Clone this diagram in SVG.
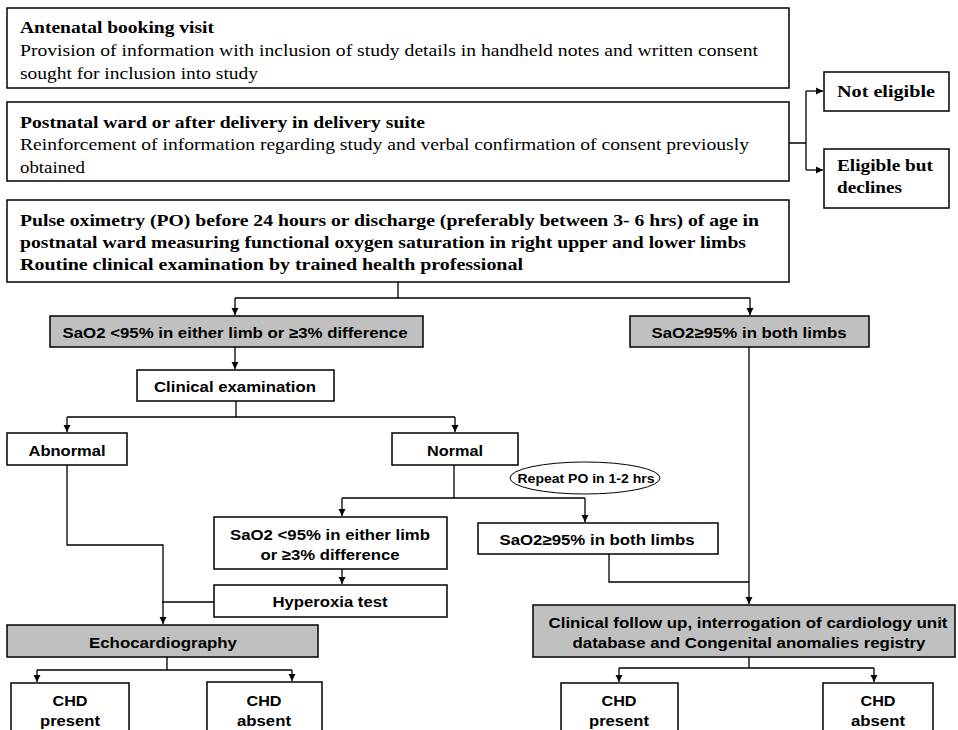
<svg xmlns="http://www.w3.org/2000/svg" width="958" height="730" viewBox="0 0 958 730">
<style>
.box{fill:#fff;stroke:#000;stroke-width:1.5}
.gray{fill:#c0c0c0;stroke:#000;stroke-width:1.5}
.serif{font-family:"Liberation Serif","Times New Roman",serif;font-size:17px;fill:#000}
.sb{font-weight:bold}
.sans{font-family:"Liberation Sans",Arial,sans-serif;font-weight:bold;font-size:15px;fill:#000;text-anchor:middle}
.ln{fill:none;stroke:#000;stroke-width:1.3}
</style>
<defs>
<marker id="ah" markerWidth="8" markerHeight="8" refX="7" refY="4" orient="auto" markerUnits="userSpaceOnUse">
<path d="M0,0.5 L7,4 L0,7.5 z" fill="#000"/>
</marker>
</defs>
<rect width="958" height="730" fill="#fff"/>

<g id="antenatal">
<rect class="box" x="7" y="8" width="782" height="80"/>
<text class="serif sb" x="20" y="33" textLength="194" lengthAdjust="spacingAndGlyphs">Antenatal booking visit</text>
<text class="serif" x="20" y="56" textLength="738" lengthAdjust="spacingAndGlyphs">Provision of information with inclusion of study details in handheld notes and written consent</text>
<text class="serif" x="20" y="79" textLength="238" lengthAdjust="spacingAndGlyphs">sought for inclusion into study</text>
</g>
<g id="postnatal">
<rect class="box" x="7" y="102" width="782" height="79"/>
<text class="serif sb" x="20" y="128" textLength="405" lengthAdjust="spacingAndGlyphs">Postnatal ward or after delivery in delivery suite</text>
<text class="serif" x="20" y="150" textLength="729" lengthAdjust="spacingAndGlyphs">Reinforcement of information regarding study and verbal confirmation of consent previously</text>
<text class="serif" x="20" y="173" textLength="65" lengthAdjust="spacingAndGlyphs">obtained</text>
</g>
<g id="noteligible">
<rect class="box" x="824" y="72" width="125" height="39"/>
<text class="serif sb" x="837" y="97" textLength="98" lengthAdjust="spacingAndGlyphs">Not eligible</text>
</g>
<g id="declines">
<rect class="box" x="824" y="149" width="125" height="59"/>
<text class="serif sb" x="837" y="171" textLength="96" lengthAdjust="spacingAndGlyphs">Eligible but</text>
<text class="serif sb" x="837" y="193" textLength="65" lengthAdjust="spacingAndGlyphs">declines</text>
</g>
<g id="pulseox">
<rect class="box" x="7" y="200" width="782" height="82"/>
<text class="serif sb" x="20" y="226" textLength="739" lengthAdjust="spacingAndGlyphs">Pulse oximetry (PO) before 24 hours or discharge (preferably between 3- 6 hrs) of age in</text>
<text class="serif sb" x="20" y="248" textLength="726" lengthAdjust="spacingAndGlyphs">postnatal ward measuring functional oxygen saturation in right upper and lower limbs</text>
<text class="serif sb" x="20" y="270" textLength="503" lengthAdjust="spacingAndGlyphs">Routine clinical examination by trained health professional</text>
</g>
<g id="low1">
<rect class="gray" x="50" y="316" width="373" height="31"/>
<text class="sans" x="235" y="338" textLength="345" lengthAdjust="spacingAndGlyphs">SaO2 &lt;95% in either limb or ≥3% difference</text>
</g>
<g id="high1">
<rect class="gray" x="630" y="316" width="239" height="31"/>
<text class="sans" x="749" y="338" textLength="195" lengthAdjust="spacingAndGlyphs">SaO2≥95% in both limbs</text>
</g>
<g id="clinexam">
<rect class="box" x="137" y="370" width="197" height="31"/>
<text class="sans" x="235" y="392" textLength="162" lengthAdjust="spacingAndGlyphs">Clinical examination</text>
</g>
<g id="abnormal">
<rect class="box" x="7" y="433" width="120" height="32"/>
<text class="sans" x="67" y="456" textLength="77" lengthAdjust="spacingAndGlyphs">Abnormal</text>
</g>
<g id="normal">
<rect class="box" x="392" y="433" width="126" height="32"/>
<text class="sans" x="455" y="456" textLength="56" lengthAdjust="spacingAndGlyphs">Normal</text>
</g>
<g id="repeat">
<ellipse cx="585" cy="478" rx="75" ry="16" fill="#fff" stroke="#000" stroke-width="1"/>
<text class="sans" x="586" y="483" style="font-size:13px" textLength="137" lengthAdjust="spacingAndGlyphs">Repeat PO in 1-2 hrs</text>
</g>
<g id="low2">
<rect class="box" x="214" y="517" width="233" height="52"/>
<text class="sans" x="330" y="540" textLength="200" lengthAdjust="spacingAndGlyphs">SaO2 &lt;95% in either limb</text>
<text class="sans" x="330" y="560" textLength="139" lengthAdjust="spacingAndGlyphs">or ≥3% difference</text>
</g>
<g id="high2">
<rect class="box" x="478" y="523" width="240" height="31"/>
<text class="sans" x="597" y="545" textLength="195" lengthAdjust="spacingAndGlyphs">SaO2≥95% in both limbs</text>
</g>
<g id="hyperoxia">
<rect class="box" x="214" y="585" width="233" height="32"/>
<text class="sans" x="330" y="607" textLength="115" lengthAdjust="spacingAndGlyphs">Hyperoxia test</text>
</g>
<g id="echo">
<rect class="gray" x="7" y="625" width="311" height="32"/>
<text class="sans" x="163" y="648" textLength="148" lengthAdjust="spacingAndGlyphs">Echocardiography</text>
</g>
<g id="followup">
<rect class="gray" x="533" y="605" width="422" height="52"/>
<text class="sans" x="748" y="628" textLength="399" lengthAdjust="spacingAndGlyphs">Clinical follow up, interrogation of cardiology unit</text>
<text class="sans" x="749" y="648" textLength="353" lengthAdjust="spacingAndGlyphs">database and Congenital anomalies registry</text>
</g>
<g id="chdp1">
<rect class="box" x="11" y="683" width="118" height="60"/>
<text class="sans" x="70" y="706" textLength="35" lengthAdjust="spacingAndGlyphs">CHD</text>
<text class="sans" x="70" y="726" textLength="60" lengthAdjust="spacingAndGlyphs">present</text>
</g>
<g id="chda1">
<rect class="box" x="207" y="682" width="115" height="60"/>
<text class="sans" x="264" y="706" textLength="35" lengthAdjust="spacingAndGlyphs">CHD</text>
<text class="sans" x="264" y="726" textLength="54" lengthAdjust="spacingAndGlyphs">absent</text>
</g>
<g id="chdp2">
<rect class="box" x="561" y="683" width="117" height="60"/>
<text class="sans" x="619" y="706" textLength="35" lengthAdjust="spacingAndGlyphs">CHD</text>
<text class="sans" x="619" y="726" textLength="60" lengthAdjust="spacingAndGlyphs">present</text>
</g>
<g id="chda2">
<rect class="box" x="823" y="683" width="110" height="60"/>
<text class="sans" x="878" y="706" textLength="35" lengthAdjust="spacingAndGlyphs">CHD</text>
<text class="sans" x="878" y="726" textLength="54" lengthAdjust="spacingAndGlyphs">absent</text>
</g>

<g id="connectors">
<path class="ln" d="M789,143 H806 M806,91 V170"/>
<path class="ln" d="M806,91 H823" marker-end="url(#ah)"/>
<path class="ln" d="M806,170 H823" marker-end="url(#ah)"/>
<path class="ln" d="M398,282 V298 M235,298 H750"/>
<path class="ln" d="M235,298 V315" marker-end="url(#ah)"/>
<path class="ln" d="M750,298 V315" marker-end="url(#ah)"/>
<path class="ln" d="M235,347 V369" marker-end="url(#ah)"/>
<path class="ln" d="M236,401 V417 M67,417 H455"/>
<path class="ln" d="M67,417 V432" marker-end="url(#ah)"/>
<path class="ln" d="M455,417 V432" marker-end="url(#ah)"/>
<path class="ln" d="M67,465 V545 H163 V624" marker-end="url(#ah)"/>
<path class="ln" d="M214,602 H162"/>
<path class="ln" d="M454,465 V498 M342,498 H585"/>
<path class="ln" d="M342,498 V516" marker-end="url(#ah)"/>
<path class="ln" d="M585,498 V522" marker-end="url(#ah)"/>
<path class="ln" d="M342,569 V584" marker-end="url(#ah)"/>
<path class="ln" d="M609,554 V582 H749"/>
<path class="ln" d="M749,347 V604" marker-end="url(#ah)"/>
<path class="ln" d="M167,657 V670 M37,670 H292"/>
<path class="ln" d="M37,670 V682" marker-end="url(#ah)"/>
<path class="ln" d="M292,670 V681" marker-end="url(#ah)"/>
<path class="ln" d="M749,657 V668 M619,668 H874"/>
<path class="ln" d="M619,668 V682" marker-end="url(#ah)"/>
<path class="ln" d="M874,668 V682" marker-end="url(#ah)"/>
</g>
</svg>
